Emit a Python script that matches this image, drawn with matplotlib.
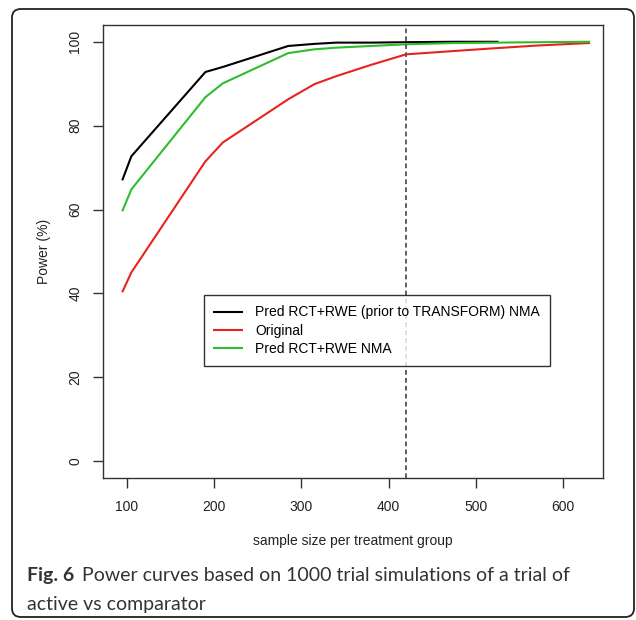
import matplotlib.pyplot as plt
from matplotlib.patches import FancyBboxPatch

# sample sizes per treatment group
n_black = [95, 105, 190, 210, 285, 315, 340, 380, 420, 475, 525]
n_all = [95, 105, 190, 210, 285, 315, 340, 380, 420, 475, 525, 570, 630]

# power (%)
pow_black = [67.2, 72.7, 92.8, 94.0, 99.0, 99.5, 99.8, 99.8, 99.9, 100.0, 100.0]
pow_red = [40.5, 45.0, 71.5, 76.0, 86.3, 89.9, 91.8, 94.5, 97.0, 97.8, 98.5, 99.1, 99.7]
pow_green = [59.8, 64.8, 86.8, 90.1, 97.3, 98.2, 98.6, 99.0, 99.4, 99.7, 99.8, 99.9, 100.0]

labels = ['Pred RCT+RWE (prior to TRANSFORM) NMA', 'Original', 'Pred RCT+RWE NMA']
vline_x = 420

W, H = 636, 620
fig = plt.figure(figsize=(W / 100, H / 100), dpi=100)
plt.rcParams['font.family'] = ['Liberation Sans', 'DejaVu Sans']

# outer rounded frame
frame = FancyBboxPatch((12 / W, 3 / H), 622 / W, 608 / H,
                       boxstyle='round,pad=0,rounding_size=0.014',
                       transform=fig.transFigure, fill=False,
                       edgecolor='#222222', linewidth=1.3)
fig.patches.append(frame)

ax = fig.add_axes([103 / W, (H - 478) / H, 500 / W, 453 / H])

ax.plot(n_black, pow_black, color='black', lw=1.5, label=labels[0])
ax.plot(n_all, pow_red, color='#e8231e', lw=1.5, label=labels[1])
ax.plot(n_all, pow_green, color='#2ebd2e', lw=1.5, label=labels[2])
ax.axvline(vline_x, color='#555555', lw=1.3, linestyle=(0, (2.6, 1.8)))

ax.set_xlim(72.5, 646)
ax.set_ylim(-4, 104)
ax.set_xticks([100, 200, 300, 400, 500, 600])
ax.set_yticks([0, 20, 40, 60, 80, 100])
ax.tick_params(axis='both', direction='out', length=7, width=1, color='#333333',
               labelsize=10, labelcolor='#222222')
ax.tick_params(axis='x', pad=9)
ax.tick_params(axis='y', pad=8)
for lab in ax.get_yticklabels():
    lab.set_rotation(90)
    lab.set_va('center')
for s in ax.spines.values():
    s.set_color('#333333')
    s.set_linewidth(1)

ax.set_xlabel('sample size per treatment group', fontsize=10, color='#222222', labelpad=14)
ax.set_ylabel('Power (%)', fontsize=10, color='#222222', labelpad=12)

leg = ax.legend(loc='upper left', bbox_to_anchor=(204 / W, 1 - 295 / H),
                bbox_transform=fig.transFigure, fontsize=10, frameon=True,
                fancybox=False, handlelength=2.0, handletextpad=0.93,
                borderpad=0.75, labelspacing=0.3, borderaxespad=0)
leg.get_frame().set_edgecolor('black')
leg.get_frame().set_linewidth(1)
for line in leg.get_lines():
    line.set_linewidth(1.5)

# caption
cap = dict(fontsize=14, family='Lato', color='#333333', va='baseline')
fig.text(27 / W, 1 - 581 / H, 'Fig. 6', fontweight='bold', **cap)
fig.text(82 / W, 1 - 581 / H, 'Power curves based on 1000 trial simulations of a trial of', **cap)
fig.text(27 / W, 1 - 610 / H, 'active vs comparator', **cap)

fig.savefig('out.png', dpi=100)
